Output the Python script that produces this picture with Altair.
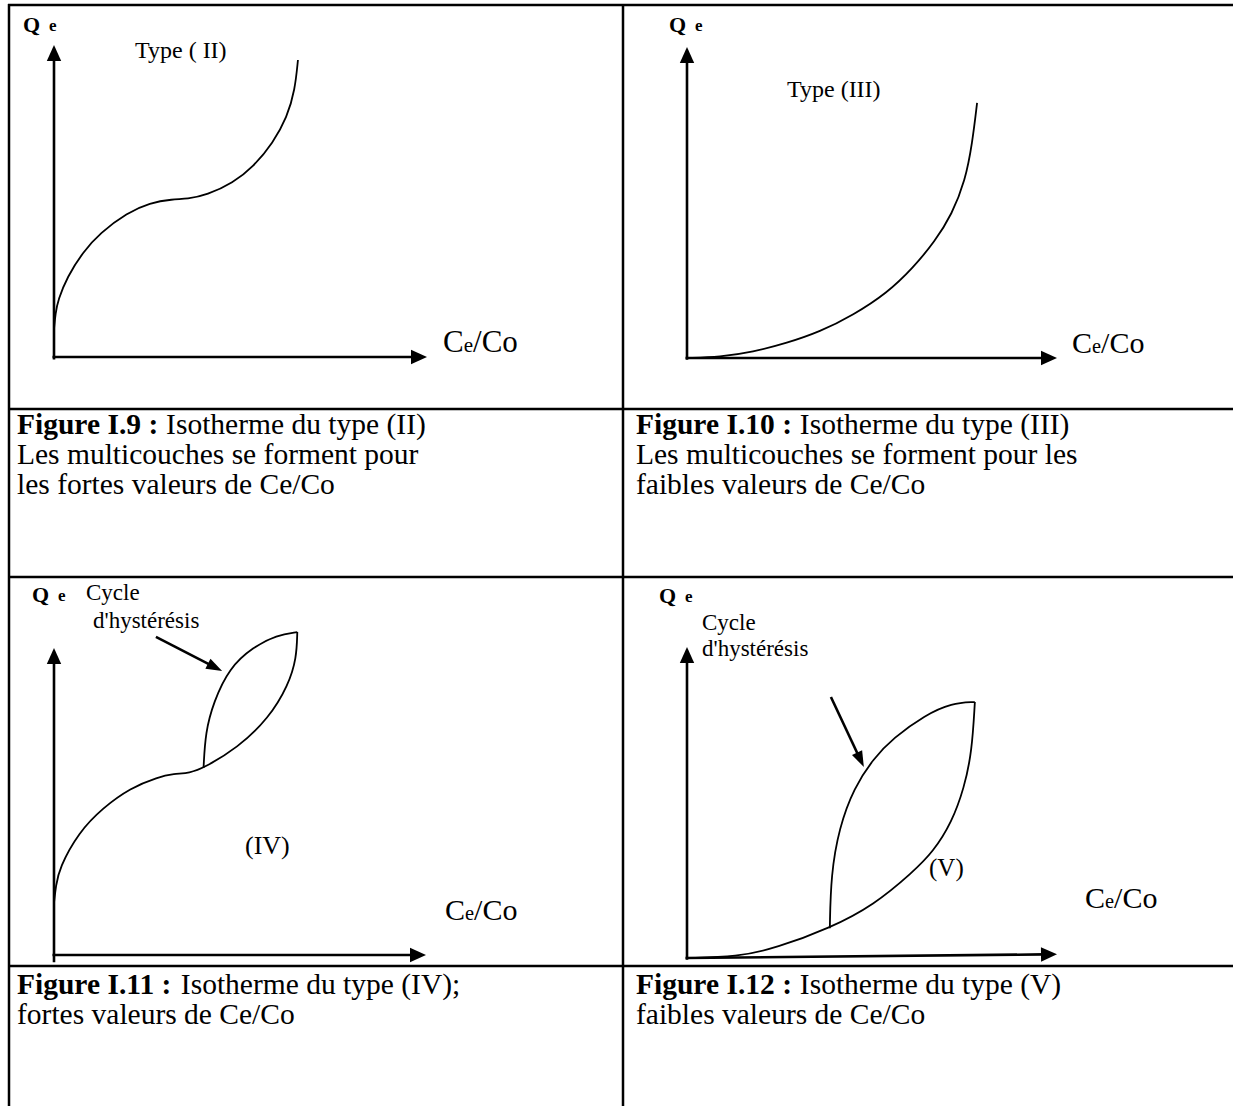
import math
import altair as alt
import pandas as pd

W, H = 1233, 1106
SERIF = "Liberation Serif"

# ---------------------------------------------------------------------------
# Isotherm shapes, in axis units: Ce/Co and Qe both run from 0 at the origin
# to 1 at the arrow tips of each small diagram.
# ---------------------------------------------------------------------------
ce_type2 = [0.000, 0.004, 0.011, 0.035, 0.078, 0.123, 0.196, 0.257, 0.318, 0.357,
            0.410, 0.480, 0.534, 0.587, 0.625, 0.646, 0.654]
qe_type2 = [0.090, 0.140, 0.183, 0.256, 0.337, 0.397, 0.462, 0.494, 0.506, 0.506,
            0.519, 0.558, 0.609, 0.686, 0.769, 0.856, 0.952]

ce_type3 = [0.000, 0.089, 0.178, 0.270, 0.359, 0.449, 0.541, 0.611, 0.670, 0.716,
            0.752, 0.771, 0.784]
qe_type3 = [0.000, 0.003, 0.019, 0.048, 0.084, 0.138, 0.209, 0.290, 0.375, 0.462,
            0.570, 0.690, 0.820]

# type IV: monolayer knee, then the adsorption branch of the hysteresis loop
ce_type4_ads = [0.000, 0.005, 0.014, 0.067, 0.131, 0.205, 0.280, 0.322, 0.365, 0.402,
                0.493, 0.578, 0.630, 0.652, 0.654]
qe_type4_ads = [0.170, 0.225, 0.283, 0.401, 0.479, 0.544, 0.580, 0.590, 0.593, 0.609,
                0.674, 0.772, 0.879, 0.967, 1.052]
ce_type4_des = [0.402, 0.407, 0.429, 0.471, 0.535, 0.599, 0.654]
qe_type4_des = [0.609, 0.726, 0.824, 0.935, 1.003, 1.042, 1.052]

# type V: convex start, then the hysteresis loop
ce_type5_ads = [0.000, 0.135, 0.241, 0.386, 0.505, 0.611, 0.665, 0.716, 0.749, 0.770, 0.778]
qe_type5_ads = [0.000, 0.003, 0.032, 0.096, 0.170, 0.277, 0.341, 0.437, 0.547, 0.662, 0.823]
ce_type5_des = [0.386, 0.389, 0.411, 0.451, 0.505, 0.557, 0.643, 0.716, 0.778]
qe_type5_des = [0.096, 0.267, 0.418, 0.547, 0.643, 0.707, 0.781, 0.820, 0.823]

# "Cycle d'hystérésis" pointers: (Ce/Co, Qe) of tail and tip
pointer_iv = [(0.274, 1.036), (0.452, 0.925)]
pointer_v = [(0.389, 0.839), (0.478, 0.614)]

# ---------------------------------------------------------------------------
# Page layout of the four diagrams (origin and axis lengths, in pixels)
# ---------------------------------------------------------------------------
FRAMES = {
    "II":  dict(x0=54,  y0=357, xlen=373, ylen=312, ybot=-0.008, xend_qe=0.0),
    "III": dict(x0=687, y0=358, xlen=370, ylen=311, ybot=-0.006, xend_qe=0.0),
    "IV":  dict(x0=54,  y0=955, xlen=372, ylen=307, ybot=-0.024, xend_qe=0.0),
    "V":   dict(x0=687, y0=958, xlen=370, ylen=311, ybot=-0.006, xend_qe=0.012),
}


def to_page(panel, ce, qe):
    f = FRAMES[panel]
    return f["x0"] + ce * f["xlen"], f["y0"] - qe * f["ylen"]


# ---- curves -------------------------------------------------------------
curve_rows = []
curves = [
    ("II", "t2", ce_type2, qe_type2),
    ("III", "t3", ce_type3, qe_type3),
    ("IV", "t4a", ce_type4_ads, qe_type4_ads),
    ("IV", "t4d", ce_type4_des, qe_type4_des),
    ("V", "t5a", ce_type5_ads, qe_type5_ads),
    ("V", "t5d", ce_type5_des, qe_type5_des),
]
for panel, name, ces, qes in curves:
    for i, (c, q) in enumerate(zip(ces, qes)):
        px, py = to_page(panel, c, q)
        curve_rows.append(dict(seg=name, ord=i, px=px, py=py))
curve_df = pd.DataFrame(curve_rows)

# ---- arrows (axes and pointers) -----------------------------------------
AXIS_HEAD = 8.0     # half length of an axis arrowhead
PTR_HEAD = 8.0      # half length of a pointer arrowhead


def arrow(tail, tip, half):
    (x1, y1), (x2, y2) = tail, tip
    dx, dy = x2 - x1, y2 - y1
    n = math.hypot(dx, dy)
    ux, uy = dx / n, dy / n
    ang = math.degrees(math.atan2(dx, -dy)) % 360
    shaft = dict(px=x1, py=y1, px2=x2 - ux * 1.6 * half, py2=y2 - uy * 1.6 * half)
    head = dict(px=x2 - ux * half, py=y2 - uy * half, ang=ang)
    return shaft, head


axis_shafts, axis_heads = [], []
for panel, f in FRAMES.items():
    s, h = arrow(to_page(panel, 0, f["ybot"]), to_page(panel, 0, 1), AXIS_HEAD)
    axis_shafts.append(s)
    axis_heads.append(h)
    s, h = arrow(to_page(panel, -0.004, 0), to_page(panel, 1, f["xend_qe"]), AXIS_HEAD)
    axis_shafts.append(s)
    axis_heads.append(h)

ptr_shafts, ptr_heads = [], []
for panel, (tail, tip) in (("IV", pointer_iv), ("V", pointer_v)):
    s, h = arrow(to_page(panel, *tail), to_page(panel, *tip), PTR_HEAD)
    ptr_shafts.append(s)
    ptr_heads.append(h)

shaft_df = pd.DataFrame(axis_shafts + ptr_shafts)
axis_head_df = pd.DataFrame(axis_heads)
ptr_head_df = pd.DataFrame(ptr_heads)

# ---- table grid ----------------------------------------------------------
ROW_LINES = [5, 409, 577, 966]
grid_df = pd.DataFrame(
    [dict(px=8, py=y, px2=W, py2=y) for y in ROW_LINES]
    + [dict(px=9, py=4, px2=9, py2=H), dict(px=623, py=4, px2=623, py2=H)]
)

# ---- texts ---------------------------------------------------------------
bold_rows, reg_rows = [], []

# Qe axis titles
for x, y in ((23, 32), (669, 32), (32, 602), (659, 603)):
    bold_rows.append(dict(px=x, py=y, txt="Q", fs=22))
    bold_rows.append(dict(px=x + 26, py=y - 1, txt="e", fs=17))

# Ce/Co axis titles (small "e")
C_W, E_W = 0.667, 0.444


def ce_co(x, y, fs):
    fe = 0.68 * fs
    reg_rows.append(dict(px=x, py=y, txt="C", fs=fs))
    reg_rows.append(dict(px=x + C_W * fs, py=y, txt="e", fs=fe))
    reg_rows.append(dict(px=x + C_W * fs + E_W * fe, py=y, txt="/Co", fs=fs))


ce_co(443, 352, 31)
ce_co(1072, 353, 30)
ce_co(445, 920, 30)
ce_co(1085, 908, 30)

panel_labels = [
    (135, 58, "Type ( II)", 24),
    (787, 97, "Type (III)", 24),
    (86, 600, "Cycle", 23),
    (93, 628, "d'hystérésis", 23),
    (702, 630, "Cycle", 23),
    (702, 656, "d'hystérésis", 23),
    (245, 854, "(IV)", 26),
    (929, 876, "(V)", 25),
]
for x, y, t, fs in panel_labels:
    reg_rows.append(dict(px=x, py=y, txt=t, fs=fs))

# captions
CAP_FS = 29.5
CAP_LEAD = 30
BOLD_W = {"F": 0.611, "i": 0.278, "g": 0.5, "u": 0.556, "r": 0.444, "e": 0.444,
          " ": 0.25, "I": 0.389, ".": 0.25, ":": 0.333}


def bold_width(s, fs):
    return sum(BOLD_W.get(ch, 0.5) for ch in s) * fs


captions = [
    (17, 434, "Figure I.9 :", ["Isotherme du type (II)",
                                "Les multicouches se forment pour",
                                "les fortes valeurs de Ce/Co"]),
    (636, 434, "Figure I.10 :", ["Isotherme du type (III)",
                                  "Les multicouches se forment pour les",
                                  "faibles valeurs de Ce/Co"]),
    (17, 994, "Figure I.11 :", ["Isotherme du type (IV);",
                                 "fortes valeurs de Ce/Co"]),
    (636, 994, "Figure I.12 :", ["Isotherme du type (V)",
                                  "faibles valeurs de Ce/Co"]),
]
for x, y, head, lines in captions:
    bold_rows.append(dict(px=x, py=y, txt=head, fs=CAP_FS))
    reg_rows.append(dict(px=x + bold_width(head + " ", CAP_FS), py=y, txt=lines[0], fs=CAP_FS))
    for k, line in enumerate(lines[1:], start=1):
        reg_rows.append(dict(px=x, py=y + k * CAP_LEAD, txt=line, fs=CAP_FS))

bold_df = pd.DataFrame(bold_rows)
reg_df = pd.DataFrame(reg_rows)

# ---------------------------------------------------------------------------
# Chart
# ---------------------------------------------------------------------------
xs = alt.Scale(domain=[0, W], nice=False, zero=False)
ys = alt.Scale(domain=[0, H], nice=False, zero=False, reverse=True)
X = alt.X("px:Q", scale=xs, axis=None)
Y = alt.Y("py:Q", scale=ys, axis=None)

grid = alt.Chart(grid_df).mark_rule(color="black", strokeWidth=2.5).encode(
    x=X, y=Y, x2="px2:Q", y2="py2:Q")

shafts = alt.Chart(shaft_df).mark_rule(color="black", strokeWidth=2.6).encode(
    x=X, y=Y, x2="px2:Q", y2="py2:Q")

lines = alt.Chart(curve_df).mark_line(
    color="black", strokeWidth=1.8, interpolate="basis"
).encode(x=X, y=Y, detail="seg:N", order="ord:Q")

axis_heads_layer = alt.Chart(axis_head_df).mark_point(
    shape="M0,-1L0.9,1L-0.9,1Z", filled=True, color="black", opacity=1,
    strokeWidth=0, size=(2 * AXIS_HEAD) ** 2
).encode(x=X, y=Y, angle=alt.Angle("ang:Q", scale=None))

ptr_heads_layer = alt.Chart(ptr_head_df).mark_point(
    shape="M0,-1L0.7,1L-0.7,1Z", filled=True, color="black", opacity=1,
    strokeWidth=0, size=(2 * PTR_HEAD) ** 2
).encode(x=X, y=Y, angle=alt.Angle("ang:Q", scale=None))

reg_text = alt.Chart(reg_df).mark_text(
    font=SERIF, align="left", baseline="alphabetic", color="black"
).encode(x=X, y=Y, text="txt:N", size=alt.Size("fs:Q", scale=None))

bold_text = alt.Chart(bold_df).mark_text(
    font=SERIF, fontWeight="bold", align="left", baseline="alphabetic", color="black"
).encode(x=X, y=Y, text="txt:N", size=alt.Size("fs:Q", scale=None))

chart = alt.layer(
    grid, lines, shafts, axis_heads_layer, ptr_heads_layer, reg_text, bold_text
).properties(
    width=W, height=H, padding=0, background="white",
    autosize=alt.AutoSizeParams(type="none"),
).configure_view(strokeWidth=0)

chart.save("out.html", embed_options={"renderer": "svg", "actions": False})
